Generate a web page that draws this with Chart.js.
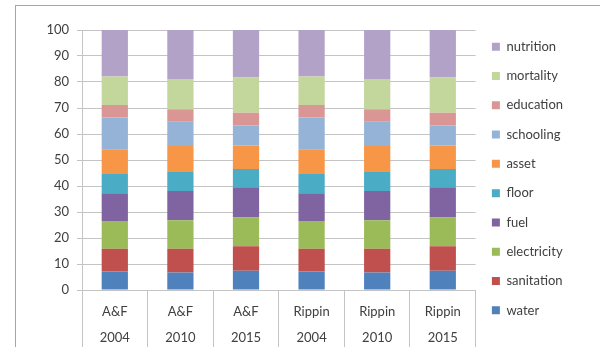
<!DOCTYPE html>
<html lang="en">
<head>
  <meta charset="UTF-8" />
  <title>Deprivation shares</title>
  <script src="https://cdn.jsdelivr.net/npm/chart.js"></script>
  <style>
    html, body { margin: 0; padding: 0; background: #fff; }
    #wrap { width: 600px; height: 347px; }
  </style>
</head>
<body>
  <div id="wrap"><canvas id="chart" width="600" height="347"></canvas></div>

  <script>
    const categories = [['A&F', '2004'], ['A&F', '2010'], ['A&F', '2015'],
                        ['Rippin', '2004'], ['Rippin', '2010'], ['Rippin', '2015']];

    // shares per indicator (bottom to top of each bar)
    const water       = [7.1, 6.7, 7.4, 7.1, 6.7, 7.4];
    const sanitation  = [8.8, 9.2, 9.4, 8.8, 9.2, 9.4];
    const electricity = [10.6, 10.9, 11.1, 10.6, 10.9, 11.1];
    const fuel        = [10.7, 11.3, 11.6, 10.7, 11.3, 11.6];
    const floor       = [7.4, 7.3, 7.0, 7.4, 7.3, 7.0];
    const asset       = [9.5, 10.0, 9.1, 9.5, 10.0, 9.1];
    const schooling   = [12.2, 9.3, 7.7, 12.2, 9.3, 7.7];
    const education   = [4.9, 4.8, 4.9, 4.9, 4.8, 4.9];
    const mortality   = [10.9, 11.7, 13.5, 10.9, 11.7, 13.5];
    const nutrition   = [17.9, 18.8, 18.3, 17.9, 18.8, 18.3];

    const seriesNames = ['water', 'sanitation', 'electricity', 'fuel', 'floor',
                         'asset', 'schooling', 'education', 'mortality', 'nutrition'];
    const seriesData = [water, sanitation, electricity, fuel, floor,
                        asset, schooling, education, mortality, nutrition];
    const colors = ['#4F81BD', '#C0504D', '#9BBB59', '#8064A2', '#4BACC6',
                    '#F79646', '#95B3D7', '#D99694', '#C3D69B', '#B3A2C7'];

    const textColor = '#404040';
    const gridColor = '#c4c4c4';
    const font = { family: 'Lato, "Open Sans", sans-serif', size: 13 };

    // outer chart frame, like the spreadsheet chart border
    const framePlugin = {
      id: 'frame',
      afterLayout(chart) {
        // legend sits a bit higher than the centred default
        chart.legend.top -= 10;
        chart.legend.bottom -= 10;
      },
      afterDraw(chart) {
        const ctx = chart.ctx;
        ctx.save();
        ctx.strokeStyle = '#a6a6a6';
        ctx.lineWidth = 1;
        ctx.strokeRect(15.5, 5.5, 700, 400);
        ctx.restore();
      }
    };

    new Chart(document.getElementById('chart'), {
      type: 'bar',
      data: {
        labels: categories,
        datasets: seriesData.map((d, i) => ({
          label: seriesNames[i],
          data: d,
          backgroundColor: colors[i],
          borderWidth: 0,
          barPercentage: 0.4,
          categoryPercentage: 1.0
        }))
      },
      options: {
        responsive: false,
        animation: false,
        layout: { padding: { left: 20, top: 30, right: 27, bottom: 0 } },
        plugins: {
          legend: {
            position: 'right',
            reverse: true,
            labels: {
              color: textColor,
              font: font,
              boxWidth: 8,
              boxHeight: 8,
              padding: 16.3
            }
          },
          tooltip: { enabled: false }
        },
        scales: {
          x: {
            stacked: true,
            afterFit(scale) { scale.height = 57; },
            grid: {
              offset: true,
              drawOnChartArea: false,
              drawTicks: true,
              tickLength: 60,
              color: gridColor
            },
            border: { display: true, color: gridColor },
            ticks: {
              color: textColor,
              font: { family: font.family, size: 13, lineHeight: 2.05 },
              padding: -52,
              maxRotation: 0,
              autoSkip: false
            }
          },
          y: {
            stacked: true,
            min: 0,
            max: 100,
            afterFit(scale) { scale.width = 62; },
            grid: { color: gridColor, tickLength: 5 },
            border: { display: true, color: gridColor },
            ticks: {
              stepSize: 10,
              color: textColor,
              font: font,
              padding: 8
            }
          }
        }
      },
      plugins: [framePlugin]
    });
  </script>
</body>
</html>
